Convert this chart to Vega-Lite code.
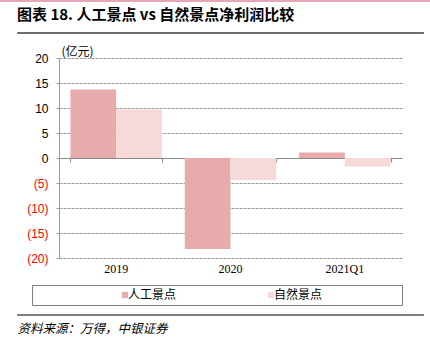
{
  "$schema": "https://vega.github.io/schema/vega-lite/v6.json",
  "width": 343,
  "height": 200,
  "autosize": {"type": "none"},
  "padding": {"left": 59, "top": 58, "right": 28, "bottom": 95},
  "background": "#ffffff",
  "config": {
    "view": {"stroke": null},
    "axisY": {
      "tickCount": 8,
      "labelOverlap": false,
      "labelExpr": "datum.value < 0 ? '(' + (-datum.value) + ')' : '' + datum.value",
      "labelFont": "Liberation Sans", "labelFontSize": 12, "labelPadding": 8,
      "domain": true, "domainColor": "#9a9a9a", "domainWidth": 1,
      "ticks": true, "tickSize": 3, "tickColor": "#9a9a9a",
      "grid": true, "gridColor": "#9a9a9a", "gridDash": [3, 1], "gridWidth": 1,
      "titleAngle": 0, "titleX": 2, "titleY": -3,
      "titleAlign": "left", "titleBaseline": "alphabetic",
      "titleFont": "Noto Sans CJK SC", "titleFontSize": 12, "titleFontWeight": "normal",
      "titleColor": "#000000"
    }
  },
  "title": {
    "text": "图表 18. 人工景点 vs 自然景点净利润比较",
    "anchor": "start",
    "frame": "group",
    "dx": -42,
    "offset": 0,
    "dy": 23,
    "font": "Noto Sans CJK SC",
    "fontSize": 15,
    "fontWeight": "bold",
    "color": "#000000"
  },
  "data": {
    "values": [
      {"cat": "2019", "series": "人工景点", "value": 13.7},
      {"cat": "2019", "series": "自然景点", "value": 9.7},
      {"cat": "2020", "series": "人工景点", "value": -18.2},
      {"cat": "2020", "series": "自然景点", "value": -4.4},
      {"cat": "2021Q1", "series": "人工景点", "value": 1.1},
      {"cat": "2021Q1", "series": "自然景点", "value": -1.7}
    ]
  },
  "resolve": {"scale": {"x": "independent"}, "axis": {"x": "independent"}},
  "layer": [
    {
      "mark": {"type": "bar"},
      "encoding": {
        "x": {
          "field": "cat", "type": "nominal", "sort": null,
          "scale": {"paddingInner": 0.2, "paddingOuter": 0.1},
          "axis": {
            "orient": "bottom", "domain": false, "ticks": false, "grid": false,
            "labelAngle": 0, "labelFont": "Liberation Serif", "labelFontSize": 12,
            "labelColor": "#000000", "labelPadding": 5,
            "title": "资料来源：万得，中银证券",
            "titleX": -42, "titleY": 74, "titleAlign": "left", "titleBaseline": "alphabetic",
            "titleFont": "Noto Sans CJK SC", "titleFontStyle": "italic", "titleFontWeight": "normal",
            "titleFontSize": 12.5, "titleColor": "#000000"
          }
        },
        "xOffset": {"field": "series", "type": "nominal", "sort": ["人工景点", "自然景点"], "scale": {"paddingInner": 0}},
        "y": {
          "field": "value", "type": "quantitative",
          "scale": {"domain": [-20, 20], "nice": false},
          "axis": {
            "title": "(亿元)",
            "labelColor": {"condition": {"test": "datum.value < 0", "value": "#FF0000"}, "value": "#000000"}
          }
        },
        "color": {
          "field": "series", "type": "nominal",
          "scale": {"domain": ["人工景点", "自然景点"], "range": ["#E8ABAB", "#F6DADA"]},
          "legend": {
            "orient": "none", "legendX": -27, "legendY": 227,
            "direction": "horizontal", "title": " ", "titleOrient": "right", "titlePadding": 76,
            "strokeColor": "#7f7f7f", "padding": 4,
            "symbolType": "square", "symbolSize": 40, "symbolStrokeWidth": 0, "symbolOffset": 83,
            "labelOffset": -3, "columnPadding": 5,
            "labelFont": "Noto Sans CJK SC", "labelFontSize": 12, "labelColor": "#000000"
          }
        }
      }
    },
    {
      "mark": {"type": "bar", "opacity": 0},
      "encoding": {
        "x": {
          "field": "cat", "type": "nominal", "sort": null,
          "scale": {"paddingInner": 0.2, "paddingOuter": 0.1},
          "axis": {
            "orient": "bottom", "offset": -100, "labels": false, "title": null, "grid": false,
            "domain": true, "domainColor": "#8a8a8a", "domainWidth": 1,
            "ticks": true, "tickBand": "extent", "tickSize": 4, "tickColor": "#8a8a8a"
          }
        },
        "y": {"field": "value", "type": "quantitative"}
      }
    },
    {
      "data": {"values": [{}]},
      "mark": {"type": "rule", "clip": false, "color": "#E0899B", "strokeWidth": 1.5},
      "encoding": {
        "y": {"datum": 31.4},
        "x": {"datum": -0.172, "type": "quantitative", "scale": {"domain": [0, 1], "nice": false, "zero": false}, "axis": null},
        "x2": {"datum": 1.082}
      }
    },
    {
      "data": {"values": [{}]},
      "mark": {"type": "rule", "clip": false, "color": "#6e6e6e", "strokeWidth": 2},
      "encoding": {
        "y": {"datum": 25},
        "x": {"datum": -0.122, "type": "quantitative", "scale": {"domain": [0, 1], "nice": false, "zero": false}, "axis": null},
        "x2": {"datum": 1.064}
      }
    },
    {
      "data": {"values": [{}]},
      "mark": {"type": "rule", "clip": false, "color": "#555555", "strokeWidth": 1.5},
      "encoding": {
        "y": {"datum": -31.4},
        "x": {"datum": -0.122, "type": "quantitative", "scale": {"domain": [0, 1], "nice": false, "zero": false}, "axis": null},
        "x2": {"datum": 1.064}
      }
    }
  ]
}
